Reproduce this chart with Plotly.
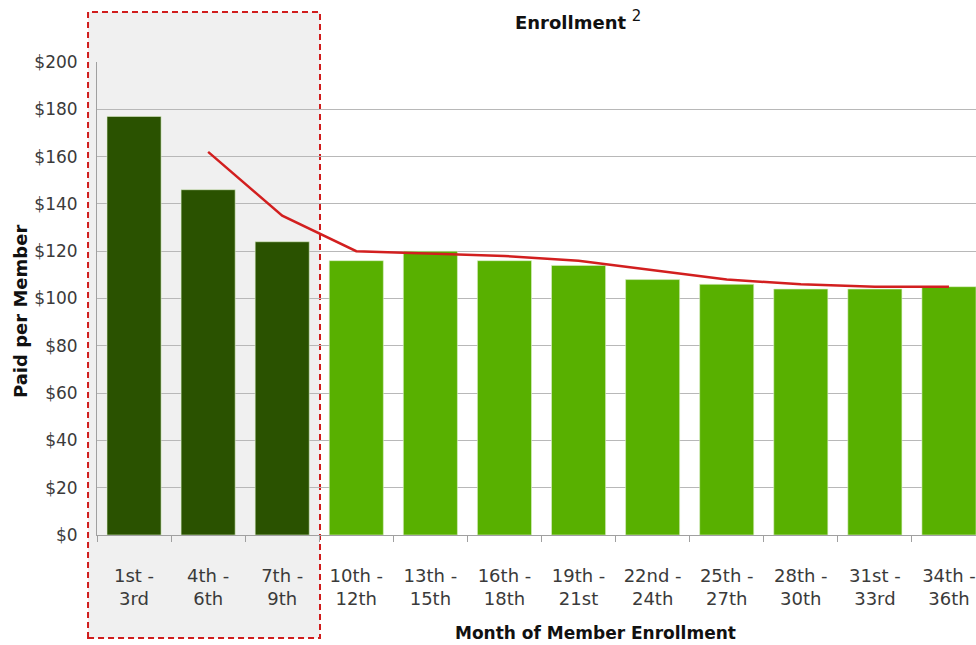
import plotly.graph_objects as go

# Enrollment month bands (three months per band)
periods = ["1st -<br>3rd", "4th -<br>6th", "7th -<br>9th", "10th -<br>12th",
           "13th -<br>15th", "16th -<br>18th", "19th -<br>21st", "22nd -<br>24th",
           "25th -<br>27th", "28th -<br>30th", "31st -<br>33rd", "34th -<br>36th"]
# Paid per member in each band
paid_per_member = [177, 146, 124, 116, 120, 116, 114, 108, 106, 104, 104, 105]
# Trend line (starts at the second band)
trend = [None, 162, 135, 120, 119, 118, 116, 112, 108, 106, 105, 105]
# Bands highlighted as early enrollment
early_bands = 3

dark_green = "#2a5200"
light_green = "#58b000"
bar_colors = [dark_green if i < early_bands else light_green for i in range(len(periods))]

font_family = "'DejaVu Sans', 'Open Sans', sans-serif"

fig = go.Figure()
fig.add_trace(go.Bar(
    x=periods, y=paid_per_member,
    marker=dict(color=bar_colors, line=dict(color="rgba(220,240,200,0.6)", width=1)),
    width=0.73,
    hoverinfo="x+y",
))
fig.add_trace(go.Scatter(
    x=periods, y=trend, mode="lines",
    line=dict(color="#d21f1f", width=2.5),
    connectgaps=False,
))

# Shaded early-enrollment box with dashed border
fig.add_shape(
    type="rect", xref="paper", yref="paper",
    x0=-0.0102, x1=0.2537, y0=-0.2178, y1=1.1057,
    fillcolor="#f0f0f0",
    line=dict(color="#d01c1c", width=2, dash="6px,4px"),
    layer="below",
)

fig.update_layout(
    width=976, height=645,
    margin=dict(l=97, r=0, t=62, b=110),
    paper_bgcolor="white",
    plot_bgcolor="rgba(0,0,0,0)",
    showlegend=False,
    bargap=0.27,
    font=dict(family=font_family, size=15, color="#333333"),
    annotations=[
        dict(text="<b>Enrollment</b> <sup><span style='font-size:15px'>2</span></sup>",
             xref="paper", yref="paper",
             x=(578 - 97) / 879, y=(535 - 20) / 473, xanchor="center", yanchor="middle",
             showarrow=False, font=dict(size=18, color="#111111", family=font_family)),
        dict(text="<b>Month of Member Enrollment</b>", xref="paper", yref="paper",
             x=(595 - 97) / 879, y=(535 - 633) / 473, xanchor="center", yanchor="middle",
             showarrow=False, font=dict(size=17, color="#111111", family=font_family)),
        dict(text="<b>Paid per Member</b>", xref="paper", yref="paper",
             x=(20 - 97) / 879, y=(535 - 312) / 473, xanchor="center", yanchor="middle",
             textangle=-90, showarrow=False,
             font=dict(size=18, color="#111111", family=font_family)),
    ],
)

fig.update_xaxes(
    type="category",
    range=[-0.5, 11.365],
    showgrid=False,
    showline=True, linecolor="#a0a0a0", linewidth=1,
    ticks="outside", tickson="boundaries", ticklen=6, tickcolor="#a0a0a0",
    ticklabelstandoff=24,
    tickfont=dict(size=18, color="#3a3a3a"),
)
fig.update_yaxes(
    range=[0, 200], dtick=20, tickprefix="$",
    showgrid=True, gridcolor="#b8b8b8", gridwidth=1,
    showline=True, linecolor="#a0a0a0", linewidth=1,
    ticks="", ticklen=0, ticklabelstandoff=15,
    zeroline=False,
    tickfont=dict(size=17, color="#3a3a3a"),
)

fig.write_html("out.html")
